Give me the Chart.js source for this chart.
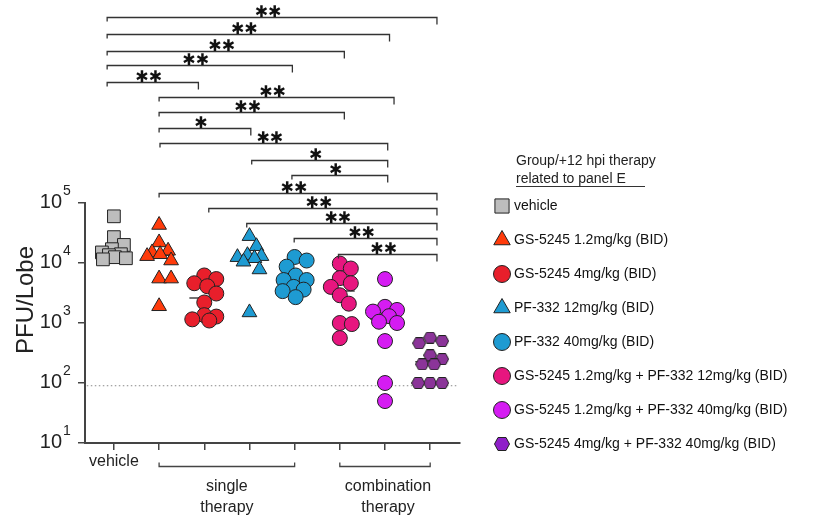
<!DOCTYPE html>
<html>
<head>
<meta charset="utf-8">
<script src="https://cdn.jsdelivr.net/npm/chart.js@4"></script>
<style>
  html, body { margin: 0; padding: 0; background: #fff; }
</style>
</head>
<body>
<canvas id="pfuChart" width="817" height="518"></canvas>
<script>
const FONT = "'Liberation Sans', Arial, sans-serif";

// groups, left to right
const groupLabels = [
  'vehicle',
  'GS-5245 1.2mg/kg (BID)',
  'GS-5245 4mg/kg (BID)',
  'PF-332 12mg/kg (BID)',
  'PF-332 40mg/kg (BID)',
  'GS-5245 1.2mg/kg + PF-332 12mg/kg (BID)',
  'GS-5245 1.2mg/kg + PF-332 40mg/kg (BID)',
  'GS-5245 4mg/kg + PF-332 40mg/kg (BID)'
];
const groupColors = ['#bdbdbd', '#ff3b0b', '#e81f2b', '#1e9bd2', '#1e9bd2', '#e7167f', '#d51cf2', '#8b3499'];
const groupStyles = ['rect', 'triangle', 'circle', 'triangle', 'circle', 'circle', 'circle', 'hexagon'];

// PFU per lobe
const vehicle = [60000, 27000, 20000, 17000, 15000, 14000, 13500, 12500, 12000, 11500];
const gs12 = [43000, 22000, 16000, 15000, 14000, 13000, 11000, 5500, 5500, 1900];
const gs4 = [6200, 5400, 4600, 4100, 3100, 2200, 1350, 1280, 1150, 1100];
const pf12 = [28000, 19000, 13500, 13000, 12500, 12000, 10500, 7800, 1500];
const pf40 = [12600, 11000, 8700, 6200, 5200, 5200, 4000, 3600, 3400, 2700];
const combo12 = [9800, 8100, 5600, 4600, 4000, 2900, 2100, 1000, 960, 560];
const combo40 = [5400, 1860, 1650, 1550, 1300, 1050, 1000, 500, 100, 50];
const combo4_40 = [570, 500, 460, 290, 250, 205, 205, 100, 100, 100];
const groupValues = [vehicle, gs12, gs4, pf12, pf40, combo12, combo40, combo4_40];

const yTicks = [10, 100, 1000, 10000, 100000];
const LOD = 90;

// significance brackets: from group, to group, height (log10 PFU), label
const brkFrom  = [0.85, 0.85, 0.85, 0.85, 0.85, 2.0, 2.0, 2.0, 2.02, 4.05, 4.94, 2.0, 3.1, 3.94, 4.99, 5.97];
const brkTo    = [8.15, 7.1, 6.1, 4.95, 2.87, 7.2, 6.1, 4.03, 7.06, 7.06, 7.06, 8.15, 8.15, 8.15, 8.15, 8.15];
const brkLevel = [8.095, 7.817, 7.538, 7.30, 7.022, 6.762, 6.522, 6.245, 5.995, 5.717, 5.467, 5.172, 4.912, 4.662, 4.412, 4.15];
const brkLabel = ['**', '**', '**', '**', '**', '**', '**', '*', '**', '*', '*', '**', '**', '**', '**', '**'];

function makeHex(w, h, fill) {
  const c = document.createElement('canvas');
  c.width = w; c.height = h;
  const ctx = c.getContext('2d');
  const q = w / 4;
  ctx.beginPath();
  ctx.moveTo(0.5, h / 2);
  ctx.lineTo(q, 0.5);
  ctx.lineTo(w - q, 0.5);
  ctx.lineTo(w - 0.5, h / 2);
  ctx.lineTo(w - q, h - 0.5);
  ctx.lineTo(q, h - 0.5);
  ctx.closePath();
  ctx.fillStyle = fill;
  ctx.fill();
  ctx.strokeStyle = '#222';
  ctx.lineWidth = 1;
  ctx.stroke();
  return c;
}

const hexPoint = makeHex(14, 12, groupColors[7]);
const hexLegend = makeHex(16, 14, '#8f1fc9');

function median(arr) {
  const s = [...arr].sort((a, b) => a - b);
  const m = Math.floor(s.length / 2);
  return s.length % 2 ? s[m] : Math.sqrt(s[m - 1] * s[m]);
}

function pointRadius(style) {
  if (style === 'rect') return 9;
  if (style === 'triangle') return 8.5;
  return 7.5;
}

const pointSets = groupValues.map((vals, g) => ({
  label: groupLabels[g],
  groupIndex: g + 1,
  values: vals,
  data: vals.map(v => ({ x: g + 1, y: v })),
  pointStyle: groupStyles[g] === 'hexagon' ? hexPoint : groupStyles[g],
  pointRadius: pointRadius(groupStyles[g]),
  pointBackgroundColor: groupColors[g],
  pointBorderColor: '#222',
  pointBorderWidth: 1,
  showLine: false,
  order: 1
}));

const medianData = [];
groupValues.forEach((vals, g) => {
  const m = median(vals);
  medianData.push({ x: g + 1 - 0.33, y: m }, { x: g + 1 + 0.33, y: m }, { x: g + 1.5, y: null });
});

const extraSets = [
  {
    label: 'median',
    data: medianData,
    showLine: true,
    spanGaps: false,
    borderColor: '#444',
    borderWidth: 1.5,
    pointRadius: 0,
    order: 5
  },
  {
    label: 'LOD',
    data: [{ x: 0.4, y: LOD }, { x: 8.62, y: LOD }],
    showLine: true,
    borderColor: '#888',
    borderWidth: 1,
    borderDash: [1.5, 2.5],
    pointRadius: 0,
    order: 6
  }
];

const decorPlugin = {
  id: 'decor',
  afterDraw(chart) {
    const ctx = chart.ctx;
    const xs = chart.scales.x, ys = chart.scales.y;
    const area = chart.chartArea;
    ctx.save();

    // y exponents
    const labelRight = ys.right - 7 - 16;
    ctx.fillStyle = '#222';
    ctx.font = '14px ' + FONT;
    ctx.textAlign = 'left';
    ctx.textBaseline = 'middle';
    yTicks.forEach(v => {
      const y = ys.getPixelForValue(v);
      ctx.fillText(String(Math.round(Math.log10(v))), labelRight + 1, y - 12);
    });

    // y title
    ctx.save();
    ctx.translate(26, 300);
    ctx.rotate(-Math.PI / 2);
    ctx.font = '24px ' + FONT;
    ctx.textAlign = 'center';
    ctx.textBaseline = 'middle';
    ctx.fillText('PFU/Lobe', 0, 0);
    ctx.restore();

    // significance brackets
    ctx.strokeStyle = '#333';
    ctx.lineWidth = 1.3;
    ctx.fillStyle = '#111';
    ctx.font = "bold 16px 'DejaVu Sans', sans-serif";
    ctx.textAlign = 'center';
    ctx.textBaseline = 'alphabetic';
    brkFrom.forEach((f, i) => {
      const x1 = xs.getPixelForValue(f);
      const x2 = xs.getPixelForValue(brkTo[i]);
      const y = Math.round(ys.getPixelForValue(Math.pow(10, brkLevel[i]))) + 0.5;
      ctx.beginPath();
      ctx.moveTo(x1, y + 4);
      ctx.lineTo(x1, y);
      ctx.lineTo(x2, y);
      ctx.lineTo(x2, y + 7);
      ctx.stroke();
      const txt = brkLabel[i].replace(/\*/g, '\u2731');
      const m = ctx.measureText(txt);
      const cy = y - 6.5;
      const base = cy + (m.actualBoundingBoxAscent - m.actualBoundingBoxDescent) / 2;
      ctx.fillText(txt, (x1 + x2) / 2 - 4, base);
    });

    // therapy brackets under the axis
    const by = area.bottom + 23.5;
    ctx.lineWidth = 1.3;
    ctx.strokeStyle = '#444';
    [[2, 5], [6, 8]].forEach(([a, b]) => {
      const x1 = xs.getPixelForValue(a), x2 = xs.getPixelForValue(b);
      ctx.beginPath();
      ctx.moveTo(x1, by - 4);
      ctx.lineTo(x1, by);
      ctx.lineTo(x2, by);
      ctx.lineTo(x2, by - 4);
      ctx.stroke();
    });
    ctx.fillStyle = '#222';
    ctx.font = '16px ' + FONT;
    ctx.textBaseline = 'middle';
    const sx = (xs.getPixelForValue(2) + xs.getPixelForValue(5)) / 2;
    const cx = (xs.getPixelForValue(6) + xs.getPixelForValue(8)) / 2 + 3;
    ctx.fillText('single', sx, area.bottom + 44);
    ctx.fillText('therapy', sx, area.bottom + 65);
    ctx.fillText('combination', cx, area.bottom + 44);
    ctx.fillText('therapy', cx, area.bottom + 65);

    // legend
    ctx.textAlign = 'left';
    ctx.font = '14px ' + FONT;
    ctx.fillStyle = '#222';
    ctx.fillText('Group/+12 hpi therapy', 516, 161);
    ctx.fillText('related to panel E', 516, 179);
    ctx.strokeStyle = '#333';
    ctx.lineWidth = 1;
    ctx.beginPath();
    ctx.moveTo(516, 186.5);
    ctx.lineTo(645, 186.5);
    ctx.stroke();
    groupLabels.forEach((lab, i) => {
      const y = 206 + i * 34;
      const st = groupStyles[i];
      ctx.fillStyle = groupColors[i];
      ctx.strokeStyle = '#222';
      ctx.lineWidth = 1;
      const r = st === 'rect' ? 10 : st === 'triangle' ? 9.5 : 8.5;
      Chart.helpers.drawPoint(ctx, {
        pointStyle: st === 'hexagon' ? hexLegend : st,
        radius: r,
        rotation: 0,
        borderWidth: 1
      }, 502, y);
      ctx.fillStyle = '#111';
      ctx.fillText(lab, 514, y);
    });

    ctx.restore();
  }
};

const chart = new Chart(document.getElementById('pfuChart').getContext('2d'), {
  type: 'scatter',
  data: { datasets: [...pointSets, ...extraSets] },
  options: {
    responsive: false,
    animation: false,
    layout: { padding: { top: 203, right: 357, bottom: 0, left: 0 } },
    plugins: { legend: { display: false }, tooltip: { enabled: false } },
    scales: {
      x: {
        type: 'linear',
        min: 0.36,
        max: 8.66,
        afterBuildTicks: s => { s.ticks = groupLabels.map((_, i) => ({ value: i + 1 })); },
        afterFit: s => { s.height = 75; },
        grid: { drawOnChartArea: false, tickLength: 7, color: '#444', lineWidth: 1.5 },
        border: { color: '#444', width: 2 },
        ticks: {
          autoSkip: false,
          maxRotation: 0,
          padding: 2,
          color: '#222',
          font: { family: FONT, size: 16 },
          callback: v => (v === 1 ? 'vehicle' : '')
        }
      },
      y: {
        type: 'logarithmic',
        min: 10,
        max: 100000,
        afterBuildTicks: s => { s.ticks = yTicks.map(v => ({ value: v })); },
        afterFit: s => { s.width = 85; },
        grid: { drawOnChartArea: false, tickLength: 7, color: '#444', lineWidth: 1.5 },
        border: { color: '#444', width: 2 },
        ticks: {
          padding: 16,
          labelOffset: -1,
          color: '#222',
          font: { family: FONT, size: 20 },
          callback: () => '10'
        }
      }
    }
  },
  plugins: [decorPlugin]
});

// spread each group's points sideways so they do not pile up (simple beeswarm)
function swarm(ch) {
  const xs = ch.scales.x, ys = ch.scales.y;
  const minDist = 12;
  const maxOff = 12;
  ch.data.datasets.forEach(ds => {
    if (!ds.groupIndex) return;
    const cx = xs.getPixelForValue(ds.groupIndex);
    const order = ds.values.map((v, i) => i).sort((a, b) => ds.values[b] - ds.values[a]);
    const placed = [];
    const out = new Array(ds.values.length);
    order.forEach(i => {
      const py = ys.getPixelForValue(ds.values[i]);
      let off = 0, best = -1, bestOff = 0;
      for (let k = 0; k <= 2 * maxOff; k++) {
        const cand = (k % 2 ? 1 : -1) * Math.ceil(k / 2);
        const d = placed.length ? Math.min(...placed.map(p => Math.hypot(p.x - cand, p.y - py))) : Infinity;
        if (d >= minDist) { off = cand; best = Infinity; break; }
        if (d > best) { best = d; bestOff = cand; }
      }
      if (best !== Infinity) off = bestOff;
      placed.push({ x: off, y: py });
      out[i] = { x: xs.getValueForPixel(cx + off), y: ds.values[i] };
    });
    ds.data = out;
  });
  ch.update('none');
}
swarm(chart);
</script>
</body>
</html>
